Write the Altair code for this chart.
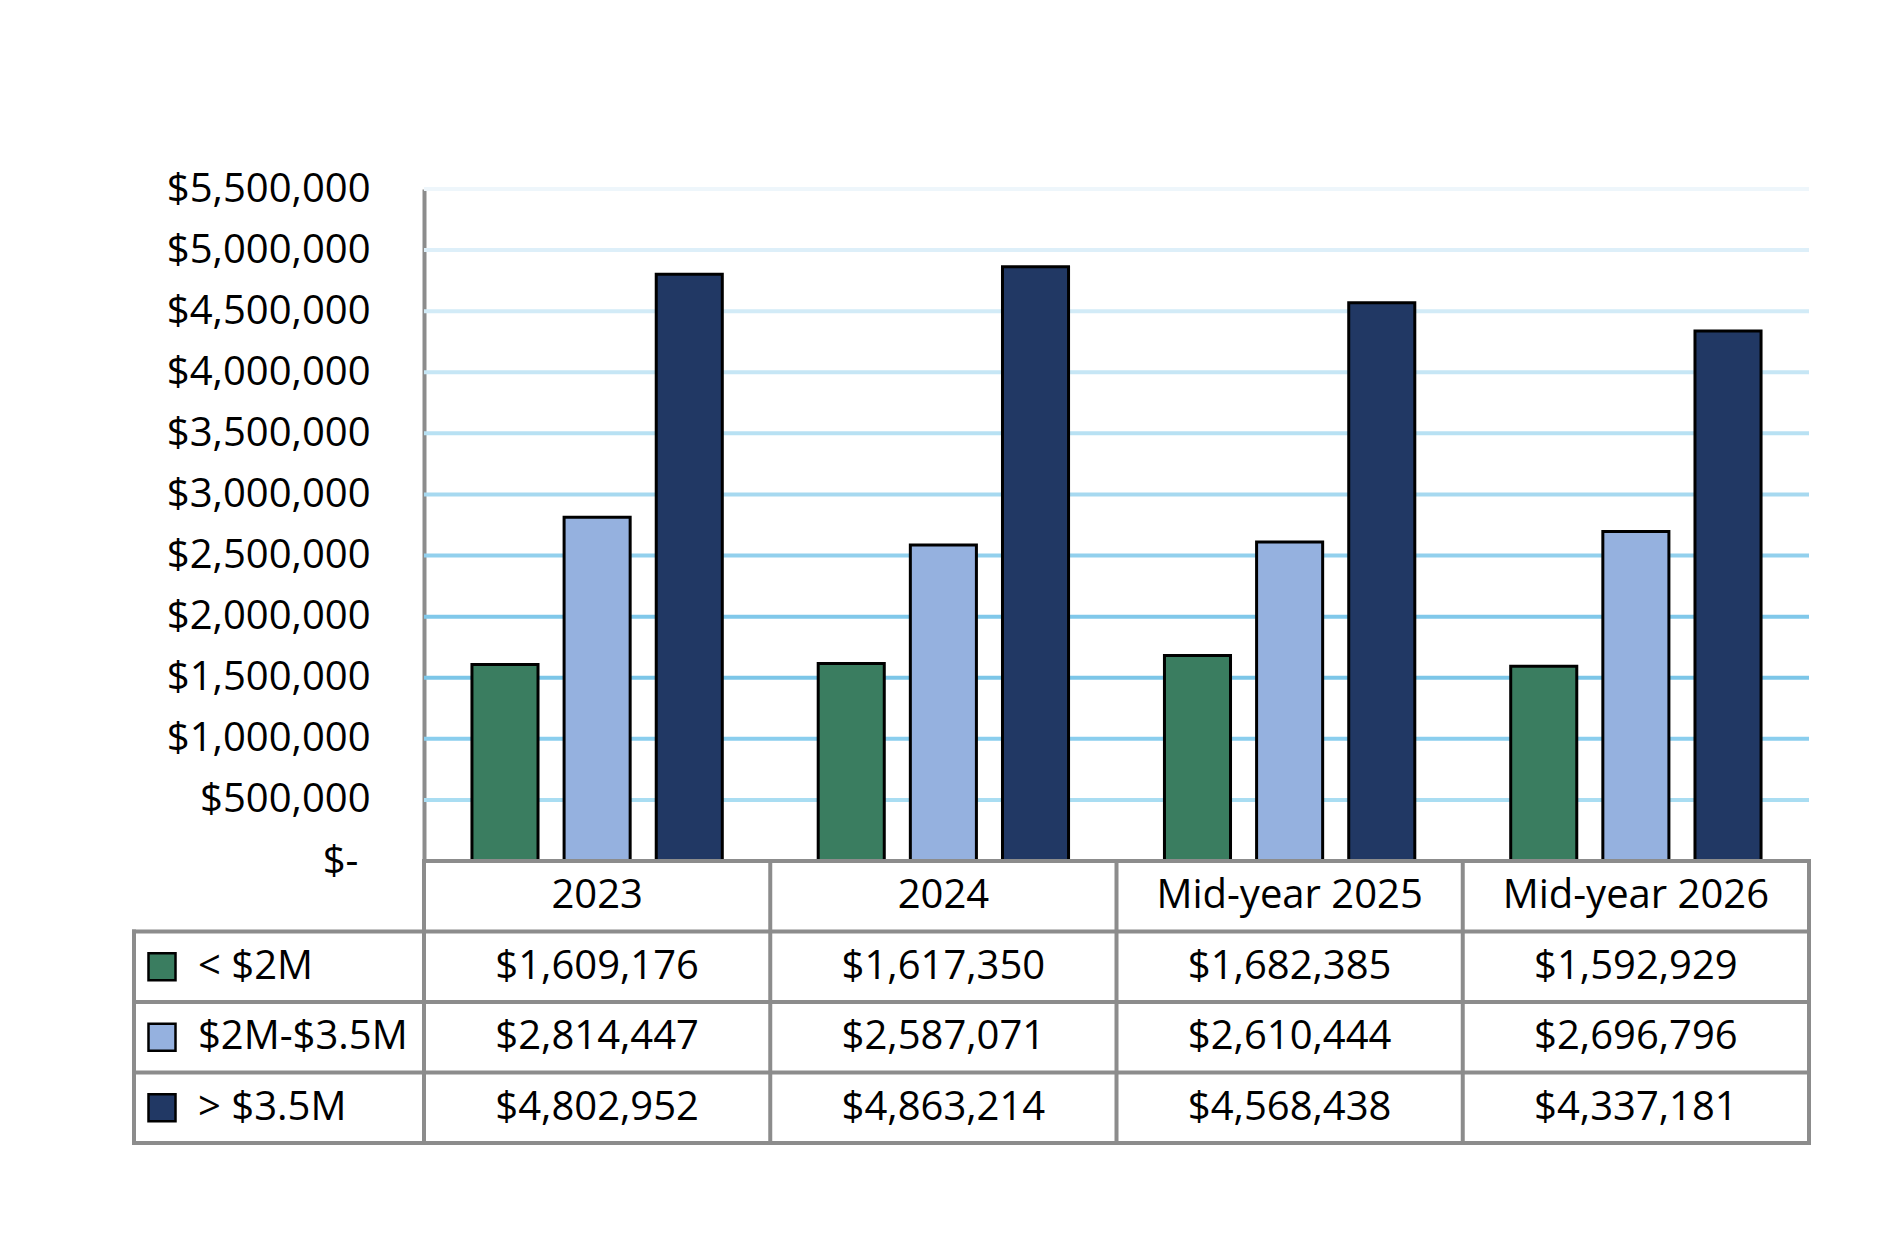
import altair as alt
import pandas as pd

# ---------------- data ----------------
categories = ["2023", "2024", "Mid-year 2025", "Mid-year 2026"]
series = ["< $2M", "$2M-$3.5M", "> $3.5M"]
under_2m = [1609176, 1617350, 1682385, 1592929]
between_2m_35m = [2814447, 2587071, 2610444, 2696796]
over_35m = [4802952, 4863214, 4568438, 4337181]
y_ticks = [0, 500000, 1000000, 1500000, 2000000, 2500000, 3000000,
           3500000, 4000000, 4500000, 5000000, 5500000]

# ---------------- style ----------------
series_colors = ["#3A7D60", "#95B1DF", "#213864"]
grid_colors = ["#A9DDF2", "#8ACEEE", "#7CC6E8", "#80C8EA", "#92D0ED",
               "#A7D9F0", "#B8E1F3", "#C6E6F5", "#D2EBF7", "#DDEFF9", "#EEF6FB"]
FONT = "Open Sans"
FS = 40
BORDER = "#8C8C8C"
W = 1385
H = 672
TH = 282
LEG_W = 290

series_values = [under_2m, between_2m_35m, over_35m]

bar_rows = []
for s, vals in zip(series, series_values):
    for c, v in zip(categories, vals):
        bar_rows.append({"cat": c, "series": s, "value": v})
bars_df = pd.DataFrame(bar_rows)

grid_df = pd.DataFrame({"value": y_ticks[1:], "gc": grid_colors})

label_expr = "datum.value == 0 ? '$-' : '$' + format(datum.value, ',')"

y_axis = alt.Axis(values=y_ticks, grid=False, ticks=False,
                  domainColor=BORDER, domainWidth=4,
                  labelFontSize=FS, labelFont=FONT, labelColor="#000000",
                  labelLimit=0,
                  labelPadding={"condition": {"test": "datum.value == 0", "value": 66},
                                "value": 54},
                  labelExpr=label_expr, title=None)
y_scale = alt.Scale(domain=[0, 5500000], nice=False, zero=True)

grid = alt.Chart(grid_df).mark_rule(strokeWidth=4).encode(
    y=alt.Y("value:Q", scale=y_scale, axis=y_axis, title=None),
    stroke=alt.Stroke("gc:N", scale=None),
)

bars = alt.Chart(bars_df).mark_bar(stroke="#000000", strokeWidth=3).encode(
    x=alt.X("cat:N", sort=categories, axis=None,
            scale=alt.Scale(paddingInner=0.277, paddingOuter=0.1385)),
    xOffset=alt.XOffset("series:N", sort=series,
                        scale=alt.Scale(paddingInner=0.283, paddingOuter=0)),
    y=alt.Y("value:Q", scale=y_scale, axis=y_axis, title=None),
    fill=alt.Fill("series:N", sort=series,
                  scale=alt.Scale(domain=series, range=series_colors), legend=None),
)

no_view = alt.ViewBackground(stroke="transparent", strokeWidth=0, strokeOpacity=0)

top = alt.layer(grid, bars).properties(width=W, height=H, view=no_view)

# ---------------- table ----------------
rows = ["hdr"] + series
table_rows = []
for ci, c in enumerate(categories):
    table_rows.append({"row": "hdr", "cat": c, "label": c})
    for s, vals in zip(series, series_values):
        table_rows.append({"row": s, "cat": c, "label": "${:,}".format(vals[ci])})
table_df = pd.DataFrame(table_rows)

tx = alt.X("cat:N", sort=categories, axis=None,
           scale=alt.Scale(paddingInner=0, paddingOuter=0))
ty = alt.Y("row:N", sort=rows, axis=None,
           scale=alt.Scale(paddingInner=0, paddingOuter=0))

cells = alt.Chart(table_df).mark_text(
    fontSize=FS, font=FONT, color="#000000", align="center", baseline="middle"
).encode(x=tx, y=ty, text="label:N")

rule_style = dict(color=BORDER, strokeWidth=4, strokeCap="square")

vlines = alt.Chart(pd.DataFrame({"cat": categories})).mark_rule(**rule_style).encode(
    x=alt.X("cat:N", sort=categories, bandPosition=0),
    y=alt.value(0), y2=alt.value(TH),
)
hlines = alt.Chart(pd.DataFrame({"row": series})).mark_rule(**rule_style).encode(
    y=alt.Y("row:N", sort=rows, bandPosition=0),
    x=alt.value(-LEG_W), x2=alt.value(W),
)
one = pd.DataFrame({"k": [0]})
bottom_line = alt.Chart(one).mark_rule(**rule_style).encode(
    y=alt.value(TH), x=alt.value(-LEG_W), x2=alt.value(W))
top_line = alt.Chart(one).mark_rule(**rule_style).encode(
    y=alt.value(0), x=alt.value(0), x2=alt.value(W))
right_line = alt.Chart(one).mark_rule(**rule_style).encode(
    x=alt.value(W), y=alt.value(0), y2=alt.value(TH))
left_leg_line = alt.Chart(pd.DataFrame({"row": [series[0]]})).mark_rule(**rule_style).encode(
    x=alt.value(-LEG_W),
    y=alt.Y("row:N", sort=rows, bandPosition=0), y2=alt.value(TH))

leg_df = pd.DataFrame({"row": series})
swatches = alt.Chart(leg_df).mark_point(
    shape="square", filled=True, size=27 * 27, stroke="#000000",
    strokeWidth=2.5, opacity=1
).encode(
    y=alt.Y("row:N", sort=rows),
    x=alt.value(-262),
    fill=alt.Fill("row:N", scale=alt.Scale(domain=series, range=series_colors), legend=None),
)
leg_text = alt.Chart(leg_df).mark_text(
    fontSize=FS, font=FONT, color="#000000", align="left", baseline="middle"
).encode(
    y=alt.Y("row:N", sort=rows),
    x=alt.value(-226),
    text="row:N",
)

table = alt.layer(cells, vlines, hlines, bottom_line, top_line, right_line,
                  left_leg_line, swatches, leg_text).properties(width=W, height=TH, view=no_view)

chart = alt.vconcat(top, table, spacing=0, bounds="flush").configure_view(
    stroke="transparent", strokeWidth=0
).configure(font=FONT).properties(
    padding={"left": 123, "top": 161, "right": 20, "bottom": 20},
    background="#ffffff",
)

chart.save("out.html", embed_options={"renderer": "svg", "actions": False})
